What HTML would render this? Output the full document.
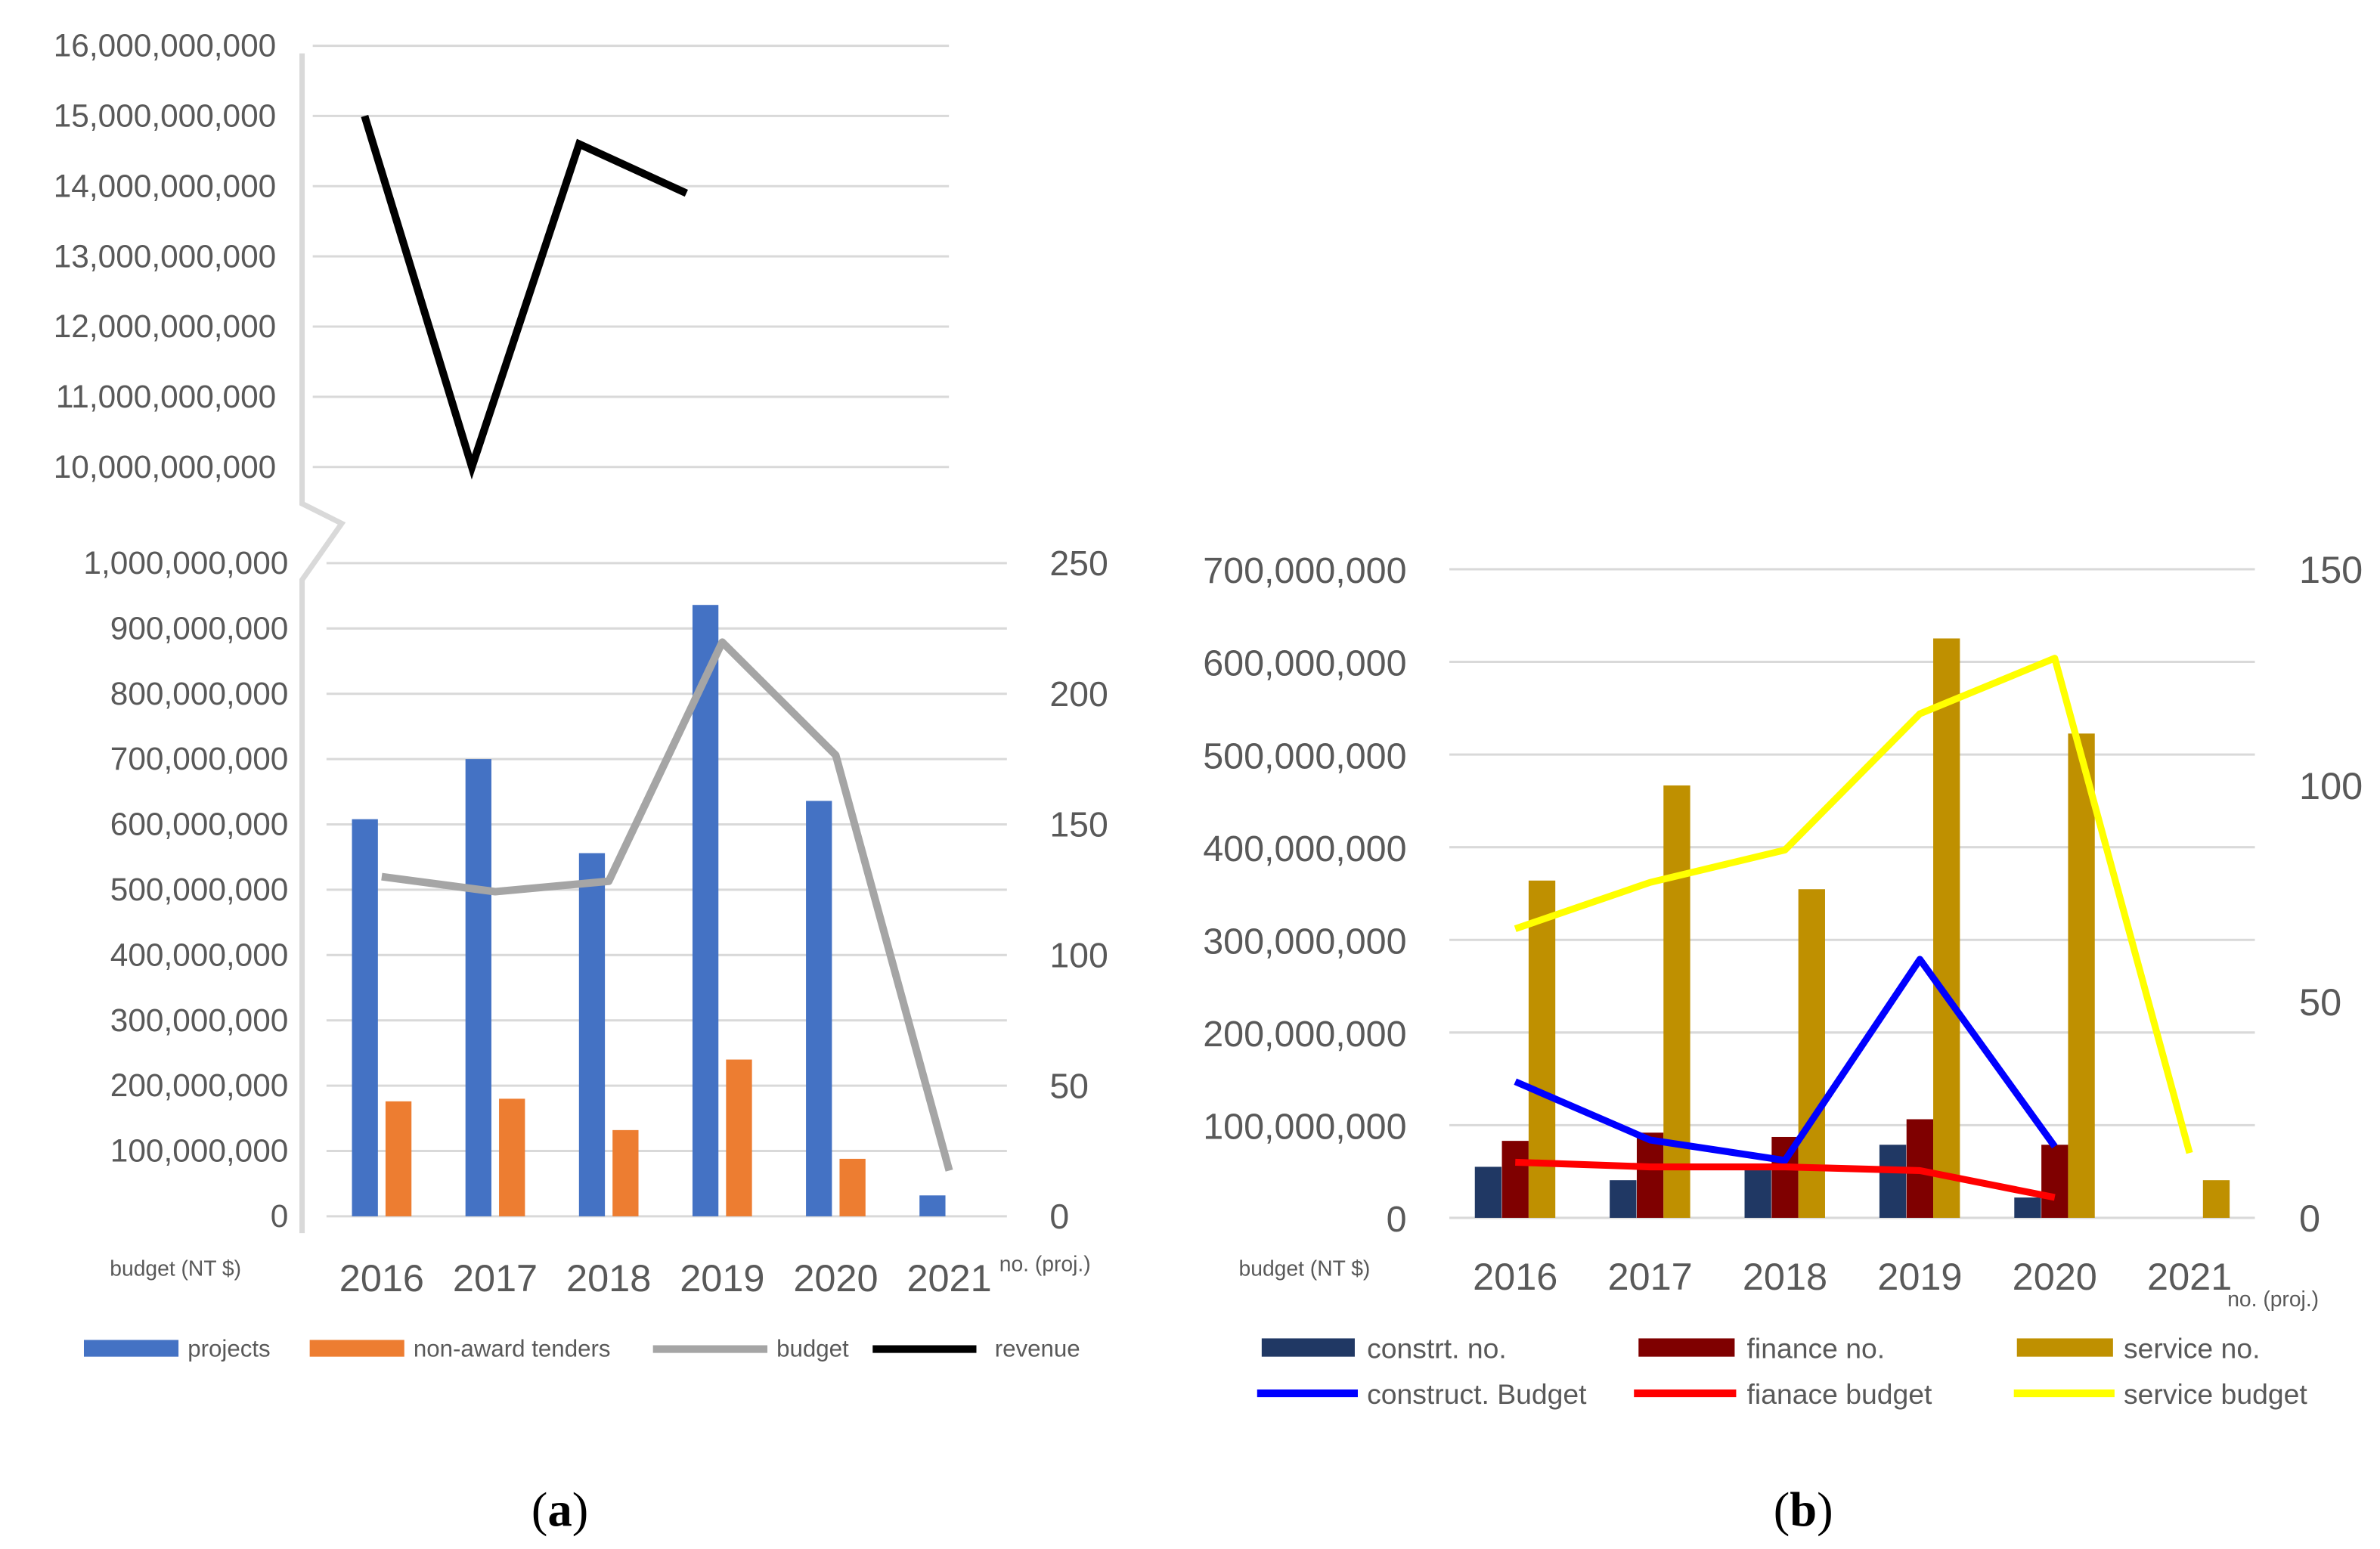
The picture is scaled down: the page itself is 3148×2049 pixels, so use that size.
<!DOCTYPE html>
<html><head><meta charset="utf-8"><style>
html,body{margin:0;padding:0;background:#fff;}
svg{display:block;}
text{font-family:"Liberation Sans",sans-serif;}
text.serif{font-family:"Liberation Serif",serif;}
</style></head><body>
<svg id="root" width="3148" height="2049" viewBox="0 0 1560 1015" preserveAspectRatio="none" xmlns="http://www.w3.org/2000/svg"></svg>
<script>
// ---- data (a) ----
const yearsA = ["2016","2017","2018","2019","2020","2021"];
const revenue = [15.0e9, 10.0e9, 14.6e9, 13.9e9];
const projects = [152, 175, 139, 234, 159, 8];
const nonAward = [44, 45, 33, 60, 22, 0];
const budgetA = [520e6, 497e6, 513e6, 879e6, 706e6, 70e6];
const topTicks = ["16,000,000,000","15,000,000,000","14,000,000,000","13,000,000,000","12,000,000,000","11,000,000,000","10,000,000,000"];
const botTicks = ["1,000,000,000","900,000,000","800,000,000","700,000,000","600,000,000","500,000,000","400,000,000","300,000,000","200,000,000","100,000,000","0"];
const rightTicksA = ["250","200","150","100","50","0"];
// ---- data (b) ----
const yearsB = ["2016","2017","2018","2019","2020","2021"];
const constrNo = [11.8, 8.7, 11, 16.9, 4.7, 0];
const financeNo = [17.8, 19.7, 18.7, 22.8, 16.9, 0];
const serviceNo = [78, 100, 76, 134, 112, 8.7];
const constrBudget = [147e6, 84e6, 62e6, 279e6, 77e6];
const financeBudget = [60e6, 55e6, 55e6, 51e6, 22e6];
const serviceBudget = [312e6, 362e6, 397e6, 544e6, 604e6, 70e6];
const leftTicksB = ["700,000,000","600,000,000","500,000,000","400,000,000","300,000,000","200,000,000","100,000,000","0"];
const rightTicksB = ["150","100","50","0"];

const NS="http://www.w3.org/2000/svg";
const root=document.getElementById('root');
function mk(tag,attrs,parent,txt){const e=document.createElementNS(NS,tag);for(const k in attrs)e.setAttribute(k,attrs[k]);if(txt!==undefined)e.textContent=txt;(parent||root).appendChild(e);return e;}
function grp(name){const g=mk('g',{});return g;}
const GRID="#d9d9d9", TXT="#595959";

// ===== chart (a) =====
const gA=grp('chart-a');
const yTop=v=>306-(v-10e9)/1e9*46;
const xTop=i=>239+i*70.3;
const gTopGrid=mk('g',{},gA);
topTicks.forEach((t,i)=>{const v=16e9-i*1e9;const y=yTop(v);
 mk('line',{x1:205,x2:622,y1:y,y2:y,stroke:GRID,'stroke-width':1.5},gTopGrid);
 const tx=mk('text',{x:181,y:y+7,'text-anchor':'end','font-size':21,fill:TXT},gA,t);
 });
const brk=mk('polyline',{points:"198,35 198,330 224,343 198,380 198,808",fill:"none",stroke:GRID,'stroke-width':3.5},gA);

const yA=v=>797-v/1e9*428;
const yAR=v=>797-v/250*428;
const xA=i=>213+74.4*(i+0.5);
botTicks.forEach((t,i)=>{const v=1e9-i*1e8;const y=yA(v);
 const l=mk('line',{x1:214,x2:660,y1:y,y2:y,stroke:GRID,'stroke-width':1.5},gA);
 
 const tx=mk('text',{x:189,y:y+7,'text-anchor':'end','font-size':21,fill:TXT},gA,t);
 });
rightTicksA.forEach((t,i)=>{const v=250-i*50;const tx=mk('text',{x:688,y:yAR(v)+8,'font-size':23,fill:TXT},gA,t);
 });
projects.forEach((v,i)=>{if(!v)return;const r=mk('rect',{x:xA(i)-19.5,y:yAR(v),width:17,height:797-yAR(v),fill:"#4472c4"},gA);
 });
nonAward.forEach((v,i)=>{if(!v)return;const r=mk('rect',{x:xA(i)+2.5,y:yAR(v),width:17,height:797-yAR(v),fill:"#ed7d31"},gA);
 });
const pb=mk('polyline',{points:budgetA.map((v,i)=>xA(i)+","+yA(v)).join(" "),fill:"none",stroke:"#a5a5a5",'stroke-width':5,'stroke-linejoin':'round'},gA);

const pr=mk('polyline',{points:revenue.map((v,i)=>xTop(i)+","+yTop(v)).join(" "),fill:"none",stroke:"#000",'stroke-width':5,'stroke-linejoin':'miter'},gA);

yearsA.forEach((t,i)=>{const tx=mk('text',{x:xA(i),y:846,'text-anchor':'middle','font-size':25,fill:TXT},gA,t);
 });
let t1=mk('text',{x:72,y:836,'font-size':14,fill:TXT},gA,"budget (NT $)");
let t2=mk('text',{x:655,y:833,'font-size':14,fill:TXT},gA,"no. (proj.)");
const lgA=mk('g',{},gA);
[[55,117,"rect","#4472c4","projects",123],[203,265,"rect","#ed7d31","non-award tenders",271],[428,503,"line","#a5a5a5","budget",509],[572,640,"line","#000","revenue",652]].forEach(d=>{
 if(d[2]=="rect")mk('rect',{x:d[0],y:878,width:d[1]-d[0],height:11,fill:d[3]},lgA);
 else mk('line',{x1:d[0],x2:d[1],y1:884,y2:884,stroke:d[3],'stroke-width':5},lgA);
 const tx=mk('text',{x:d[5],y:889,'font-size':15.5,fill:TXT},lgA,d[4]);});
let ca=mk('text',{x:367,y:1000,'text-anchor':'middle','font-size':32,fill:'#000','class':'serif'},gA,"");

ca.innerHTML='(<tspan font-weight="bold">a</tspan>)';

// ===== chart (b) =====
const gB=grp('chart-b');
const yB=v=>798-v/7e8*425;
const yBR=v=>798-v/150*425;
const xB=i=>949+88.4*(i+0.5);
leftTicksB.forEach((t,i)=>{const v=7e8-i*1e8;const y=yB(v);
 const l=mk('line',{x1:950,x2:1478,y1:y,y2:y,stroke:GRID,'stroke-width':1.5},gB);
 
 const tx=mk('text',{x:922,y:y+9,'text-anchor':'end','font-size':24,fill:TXT},gB,t);
 });
rightTicksB.forEach((t,i)=>{const v=150-i*50;const tx=mk('text',{x:1507,y:yBR(v)+9,'font-size':25,fill:TXT},gB,t);
 });
[[constrNo,-26.5,"#203864","bar-constr-no"],[financeNo,-8.75,"#7f0000","bar-finance-no"],[serviceNo,8.75,"#bf9000","bar-service-no"]].forEach(s=>{
 s[0].forEach((v,i)=>{if(!v)return;const r=mk('rect',{x:xB(i)+s[1],y:yBR(v),width:17.5,height:798-yBR(v),fill:s[2]},gB);
  });});
[[serviceBudget,"#ffff00","line-service-budget"],[constrBudget,"#0000ff","line-construct-budget"],[financeBudget,"#ff0000","line-finance-budget"]].forEach(s=>{
 const p=mk('polyline',{points:s[0].map((v,i)=>xB(i)+","+yB(v)).join(" "),fill:"none",stroke:s[1],'stroke-width':4.5,'stroke-linejoin':'round'},gB);
 });
yearsB.forEach((t,i)=>{const tx=mk('text',{x:xB(i),y:845,'text-anchor':'middle','font-size':25,fill:TXT},gB,t);
 });
let t3=mk('text',{x:812,y:836,'font-size':14,fill:TXT},gB,"budget (NT $)");
let t4=mk('text',{x:1460,y:856,'font-size':14,fill:TXT},gB,"no. (proj.)");
const lgB=mk('g',{},gB);
[[827,888,"rect","#203864","constrt. no.",896,883],[1074,1137,"rect","#7f0000","finance no.",1145,883],[1322,1385,"rect","#bf9000","service no.",1392,883],
 [824,890,"line","#0000ff","construct. Budget",896,913],[1071,1138,"line","#ff0000","fianace budget",1145,913],[1320,1386,"line","#ffff00","service budget",1392,913]].forEach(d=>{
 if(d[2]=="rect")mk('rect',{x:d[0],y:d[6]-6,width:d[1]-d[0],height:12,fill:d[3]},lgB);
 else mk('line',{x1:d[0],x2:d[1],y1:d[6],y2:d[6],stroke:d[3],'stroke-width':5},lgB);
 const tx=mk('text',{x:d[5],y:d[6]+7,'font-size':18.5,fill:TXT},lgB,d[4]);});
let cb=mk('text',{x:1182,y:1000,'text-anchor':'middle','font-size':32,fill:'#000','class':'serif'},gB,"");

cb.innerHTML='(<tspan font-weight="bold">b</tspan>)';
</script>
</body></html>
